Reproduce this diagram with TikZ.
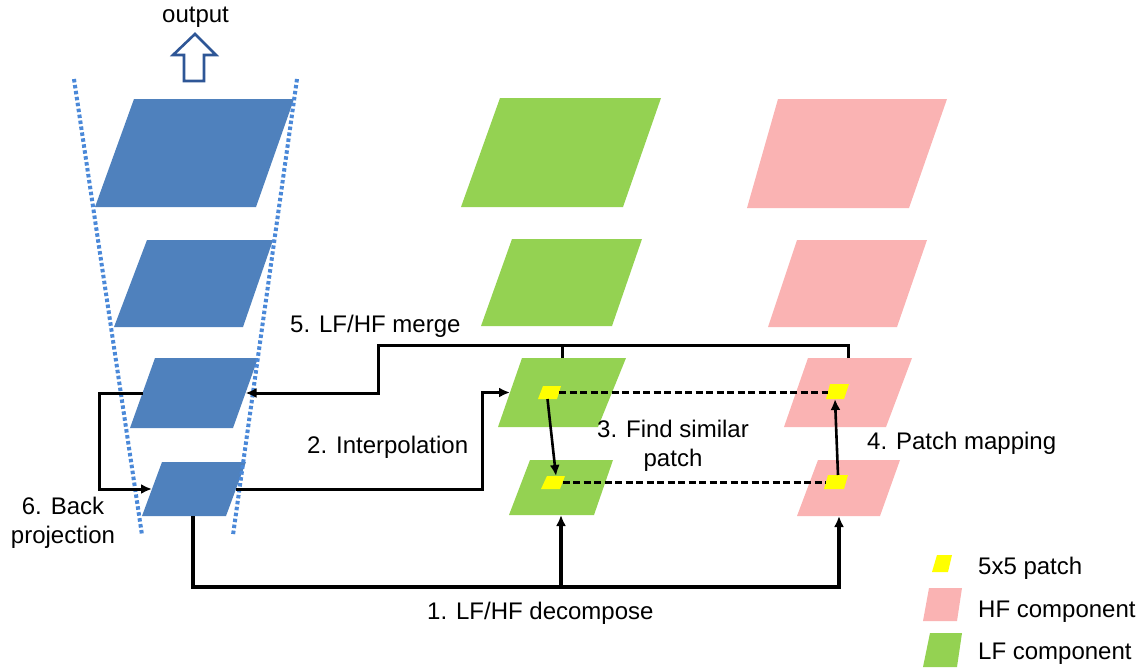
\documentclass[tikz,border=0pt]{standalone}
\usepackage{fontspec}
\setmainfont{Liberation Sans}
\usetikzlibrary{calc,arrows.meta}
\definecolor{pblue}{RGB}{79,129,189}
\definecolor{pgreen}{RGB}{148,210,82}
\definecolor{ppink}{RGB}{250,179,179}
\definecolor{pyellow}{RGB}{255,255,0}
\definecolor{dotblue}{RGB}{74,136,216}
\definecolor{outblue}{RGB}{46,86,150}
\tikzset{
  conn/.style={line width=3pt, black},
  arr/.style={-{Latex[length=11pt,width=10pt]}},
  lbl/.style={font=\fontsize{24}{29}\selectfont, inner sep=0pt},
  dotline/.style={dotblue, line width=4pt, dash pattern=on 3.5pt off 2.5pt},
  dashline/.style={black, line width=2.6pt, dash pattern=on 7pt off 3.5pt},
}
\newcommand\pgram[8]{%
  \coordinate (#1-tl) at (#2,#6);
  \coordinate (#1-tr) at (#3,#6);
  \coordinate (#1-bl) at (#4,#7);
  \coordinate (#1-br) at (#5,#7);
  \fill[#8] (#1-tl) -- (#1-tr) -- (#1-br) -- (#1-bl) -- cycle;
  \coordinate (#1) at ($(#1-tl)!0.5!(#1-br)$);
  \coordinate (#1-w) at ($(#1-tl)!0.5!(#1-bl)$);
  \coordinate (#1-e) at ($(#1-tr)!0.5!(#1-br)$);
  \coordinate (#1-n) at ($(#1-tl)!0.5!(#1-tr)$);
  \coordinate (#1-s) at ($(#1-bl)!0.5!(#1-br)$);
}
\begin{document}
\begin{tikzpicture}[x=1pt,y=-1pt]
\useasboundingbox (0,0) rectangle (1146,669);
% output arrow and label
\draw[outblue, line width=2.6pt, fill=white, line join=miter]
  (195,34) -- (216,55) -- (204,55) -- (204,81) -- (184,81) -- (184,55) -- (173,55) -- cycle;
\node[lbl, anchor=base west] (tout) at (162,23) {output};
% pyramid guides
\coordinate (dl1) at (74,79);  \coordinate (dl2) at (142,535);
\coordinate (dr1) at (297,79); \coordinate (dr2) at (233,535);
% blue pyramid
\pgram{b1}{134}{294}{95}{256}{99}{207}{pblue}
\pgram{b2}{147}{273}{114}{243}{240}{327}{pblue}
\pgram{b3}{155}{258}{130}{233}{358}{428}{pblue}
\pgram{b4}{162}{246}{142}{226}{462}{516}{pblue}
\draw[dotline] (dl1) -- (dl2);
\draw[dotline] (dr1) -- (dr2);
% green (LF) pyramid
\pgram{g1}{500}{661}{461}{623}{98}{207}{pgreen}
\pgram{g2}{512}{642}{481}{612}{239}{326}{pgreen}
\pgram{g3}{522}{626}{498}{598}{358}{427}{pgreen}
\pgram{g4}{530}{613}{509}{594}{460}{515}{pgreen}
% pink (HF) pyramid
\pgram{r1}{778}{947}{747}{909}{99}{208}{ppink}
\pgram{r2}{797}{927}{768}{897}{240}{327}{ppink}
\pgram{r3}{808}{912}{784}{886}{358}{427}{ppink}
\pgram{r4}{818}{900}{797}{880}{460}{516}{ppink}
% patches
\pgram{y3}{543}{561}{538}{557}{386}{399}{pyellow}
\pgram{y4}{547}{565}{541}{560}{476}{489}{pyellow}
\pgram{z3}{830}{849}{826}{844}{384}{399}{pyellow}
\pgram{z4}{828}{848}{824}{844}{475}{489}{pyellow}
% dashed correspondences
\draw[dashline] (y3-e) -- (y3-e -| z3-w);
\draw[dashline] (y4-e) -- (y4-e -| z4-w);
% find similar patch / patch mapping
\draw[black, line width=2.6pt, arr] (y3-s) -- (y4-n);
\draw[black, line width=2.6pt, arr] (z4-n) -- (z3-s);
% 5. merge
\coordinate (g3t) at (562,358);
\coordinate (r3t) at (848,358);
\coordinate (mt) at (378,345);
\draw[conn] (g3t) -- (g3t |- mt);
\draw[conn, arr] (r3t) |- (mt) |- (b3-e);
% 2. interpolation
\coordinate (ip) at (482,0);
\draw[conn, arr] (b4-e) -| (ip |- g3-w) -- (g3-w);
% 6. back projection
\coordinate (bp) at (99,0);
\draw[conn, arr] (b3-w) -- (bp |- b3-w) |- (b4-w);
% 1. decompose
\coordinate (b4b) at (193,516);
\coordinate (g4b) at (561,515);
\coordinate (r4b) at (839,516);
\coordinate (dy) at (0,587);
\draw[conn, line width=3.2pt, arr] (b4b) |- (r4b |- dy) -- (r4b);
\draw[conn, line width=3.2pt, arr] (g4b |- dy) -- (g4b);
% labels
\node[lbl, anchor=base west] (t5) at (290,332) {5. LF/HF merge};
\node[lbl, anchor=base west] (t2) at (307,453) {2. Interpolation};
\node[lbl, align=center] (t3) at (673,446) {3. Find similar\\patch};
\node[lbl, anchor=base west] (t4) at (867,449) {4. Patch mapping};
\node[lbl, align=center] (t6) at (63,523) {6. Back\\projection};
\node[lbl, anchor=base west] (t1) at (427,619) {1. LF/HF decompose};
% legend
\pgram{ly}{937}{952}{932}{948}{555}{572}{pyellow}
\pgram{lr}{929}{962}{923}{957}{588}{621}{ppink}
\pgram{lg}{930}{962}{923}{957}{633}{667}{pgreen}
\node[lbl, anchor=base west] (l1) at (978,574) {5x5 patch};
\node[lbl, anchor=base west] (l2) at (978,617) {HF component};
\node[lbl, anchor=base west] (l3) at (978,659) {LF component};
\end{tikzpicture}
\end{document}
